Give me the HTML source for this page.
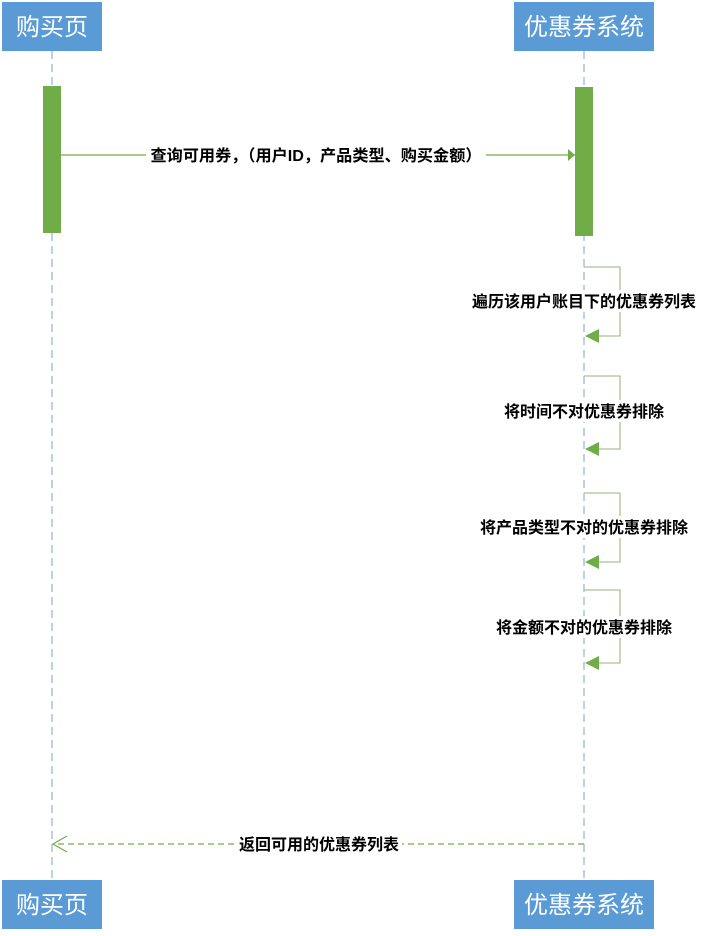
<!DOCTYPE html>
<html><head><meta charset="utf-8"><style>
body{margin:0;width:705px;height:931px;background:#fff;overflow:hidden}
svg text{font-family:"Liberation Sans","Noto Sans CJK SC",sans-serif}
</style></head><body>
<svg width="705" height="931" xmlns="http://www.w3.org/2000/svg">
<g stroke="#8fb0d6" stroke-width="1.2" stroke-dasharray="8,5">
<line x1="52" y1="51" x2="52" y2="880"/>
<line x1="584" y1="51" x2="584" y2="880"/>
</g>
<rect x="2" y="2" width="100" height="49" fill="#5b9bd5"/>
<rect x="514" y="2" width="140" height="49" fill="#5b9bd5"/>
<rect x="2" y="880" width="100" height="49" fill="#5b9bd5"/>
<rect x="514" y="880" width="140" height="49" fill="#5b9bd5"/>
<g fill="#fff" font-size="24" text-anchor="middle">
<text x="52" y="35">购买页</text>
<text x="584" y="35">优惠券系统</text>
<text x="52" y="913">购买页</text>
<text x="584" y="913">优惠券系统</text>
</g>
<rect x="43" y="86" width="18" height="147" fill="#70ad47"/>
<rect x="575" y="87" width="18" height="149" fill="#70ad47"/>
<line x1="61" y1="155" x2="575" y2="155" stroke="#70ad47" stroke-width="1.2"/>
<polygon points="575,155 568,149 568,161" fill="#70ad47"/>
<rect x="146" y="144" width="340" height="22" fill="#fff"/>
<text x="316" y="161" font-size="16" font-weight="bold" text-anchor="middle" textLength="331" lengthAdjust="spacingAndGlyphs">查询可用券，（用户ID，产品类型、购买金额）</text>
<g stroke="#a9c491" stroke-width="1.3" fill="none">
<polyline points="584,267 620,267 620,336 598,336"/>
<polyline points="584,376 620,376 620,449 598,449"/>
<polyline points="584,493 620,493 620,562 598,562"/>
<polyline points="584,590 620,590 620,663 598,663"/>
</g>
<g fill="#70ad47">
<polygon points="585,336 599,329 599,343"/>
<polygon points="585,449 599,442 599,456"/>
<polygon points="585,562 599,555 599,569"/>
<polygon points="585,663 599,656 599,670"/>
</g>
<g font-size="16" font-weight="bold" text-anchor="middle">
<rect x="468" y="290" width="232" height="22" fill="#fff"/>
<text x="584" y="307">遍历该用户账目下的优惠券列表</text>
<rect x="500" y="400" width="168" height="22" fill="#fff"/>
<text x="584" y="417">将时间不对优惠券排除</text>
<rect x="476" y="516" width="216" height="22" fill="#fff"/>
<text x="584" y="533">将产品类型不对的优惠券排除</text>
<rect x="492" y="616" width="184" height="22" fill="#fff"/>
<text x="584" y="633">将金额不对的优惠券排除</text>
</g>
<line x1="584" y1="844" x2="53" y2="844" stroke="#70ad47" stroke-width="1.2" stroke-dasharray="6,4"/>
<polyline points="67,836 53,844 67,852" stroke="#70ad47" stroke-width="1.2" fill="none"/>
<rect x="236" y="833" width="166" height="22" fill="#fff"/>
<text x="319" y="850" font-size="16" font-weight="bold" text-anchor="middle">返回可用的优惠券列表</text>
</svg>
</body></html>
